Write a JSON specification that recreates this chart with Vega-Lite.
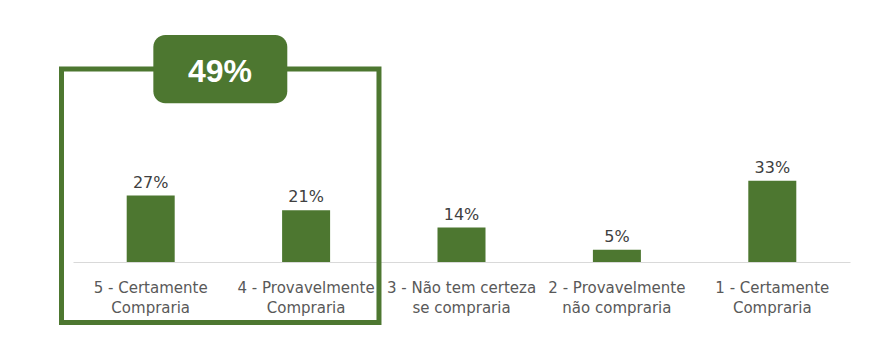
{
  "$schema": "https://vega.github.io/schema/vega-lite/v6.json",
  "autosize": {"type": "none"},
  "width": 777,
  "height": 246,
  "padding": {"left": 73, "top": 16, "right": 31, "bottom": 97},
  "background": "white",
  "config": {"view": {"stroke": null}},
  "datasets": {
    "bars": [
      {"category": "5 - Certamente\nCompraria", "pct": 27, "label": "27%"},
      {"category": "4 - Provavelmente\nCompraria", "pct": 21, "label": "21%"},
      {"category": "3 - Não tem certeza\nse compraria", "pct": 14, "label": "14%"},
      {"category": "2 - Provavelmente\nnão compraria", "pct": 5, "label": "5%"},
      {"category": "1 - Certamente\nCompraria", "pct": 33, "label": "33%"}
    ],
    "highlight": [
      {"group": "Top 2", "pct": 49, "label": "49%"}
    ]
  },
  "encoding": {
    "x": {
      "field": "category",
      "type": "nominal",
      "sort": null,
      "scale": {
        "domain": ["5 - Certamente\nCompraria", "4 - Provavelmente\nCompraria", "3 - Não tem certeza\nse compraria", "2 - Provavelmente\nnão compraria", "1 - Certamente\nCompraria"],
        "paddingInner": 0,
        "paddingOuter": 0
      },
      "axis": {
        "title": null,
        "labelAngle": 0,
        "labelExpr": "split(datum.label, '\\n')",
        "labelFont": "DejaVu Sans",
        "labelFontSize": 15,
        "labelColor": "#595959",
        "labelLineHeight": 20,
        "labelPadding": 18,
        "labelLimit": 300,
        "ticks": false,
        "domainColor": "#d9d9d9",
        "domainWidth": 1,
        "grid": false
      }
    }
  },
  "layer": [
    {
      "data": {"name": "bars"},
      "mark": {"type": "bar", "width": 48, "color": "#4d7730"},
      "encoding": {
        "y": {"field": "pct", "type": "quantitative", "scale": {"domain": [0, 100], "nice": false}, "axis": null}
      }
    },
    {
      "data": {"name": "bars"},
      "mark": {"type": "text", "font": "DejaVu Sans", "fontSize": 16, "color": "#404040", "baseline": "alphabetic", "dy": -8},
      "encoding": {
        "y": {"field": "pct", "type": "quantitative"},
        "text": {"field": "label"}
      }
    },
    {
      "data": {"name": "highlight"},
      "mark": {"type": "rect", "fill": null, "stroke": "#4d7730", "strokeWidth": 5},
      "encoding": {
        "x": {"datum": "5 - Certamente\nCompraria", "bandPosition": -0.074},
        "x2": {"datum": "4 - Provavelmente\nCompraria", "bandPosition": 0.969},
        "y": {"datum": 78.5},
        "y2": {"datum": -24.6}
      }
    },
    {
      "data": {"name": "highlight"},
      "mark": {"type": "rect", "fill": "#4d7730", "cornerRadius": 12},
      "encoding": {
        "x": {"datum": "5 - Certamente\nCompraria", "bandPosition": 0.517},
        "x2": {"datum": "4 - Provavelmente\nCompraria", "bandPosition": 0.379},
        "y": {"datum": 92.3},
        "y2": {"datum": 64.5}
      }
    },
    {
      "data": {"name": "highlight"},
      "mark": {"type": "text", "font": "Liberation Sans", "fontWeight": "bold", "fontSize": 32, "color": "white", "baseline": "alphabetic", "align": "center"},
      "encoding": {
        "x": {"datum": "5 - Certamente\nCompraria", "bandPosition": 0.946},
        "y": {"datum": 73.3},
        "text": {"field": "label"}
      }
    }
  ]
}
